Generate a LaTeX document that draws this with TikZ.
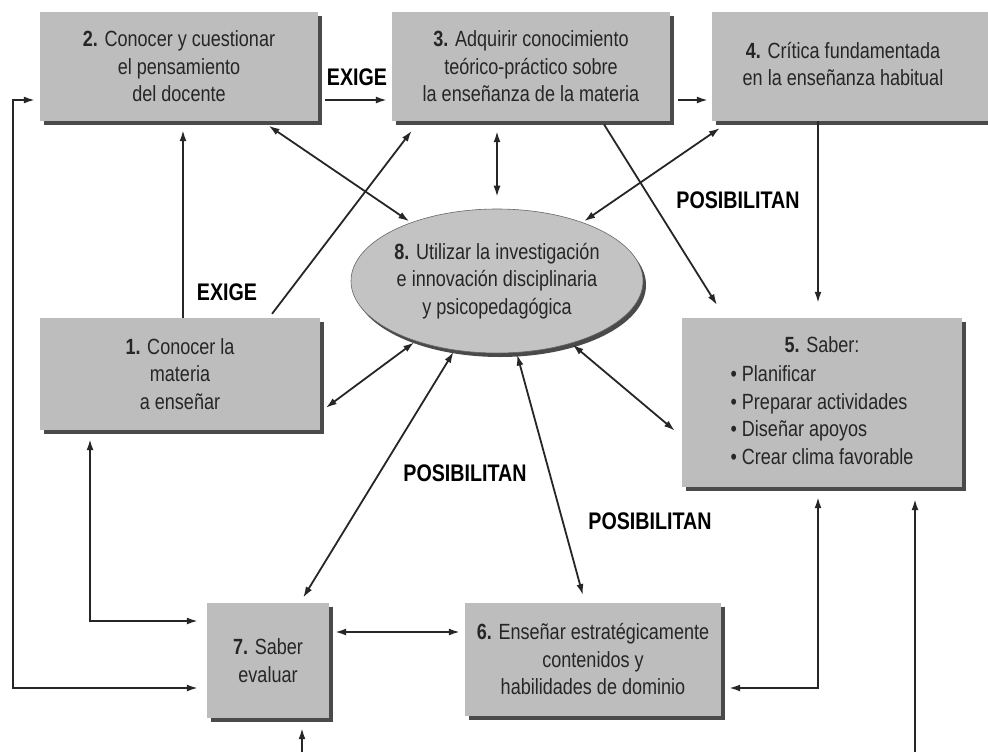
\documentclass[tikz,border=0pt]{standalone}
\usepackage{fontspec}
\setmainfont{Liberation Sans}[FakeStretch=0.82]
\usetikzlibrary{arrows.meta,shapes.geometric,shadows}
\definecolor{boxgray}{HTML}{BDBDBD}
\definecolor{ellgray}{HTML}{C3C3C3}
\definecolor{shadowgray}{HTML}{4A4A4A}
\definecolor{txtgray}{HTML}{262626}
\definecolor{linecol}{HTML}{262626}
\newcommand{\boxfont}{\fontsize{22}{27.5}\selectfont}
\newcommand{\lblfont}{\fontsize{24}{26}\selectfont\bfseries}
\begin{document}
\begin{tikzpicture}[x=1pt,y=-1pt,
  cbox/.style={rectangle, fill=boxgray, inner sep=0pt, align=center, font=\boxfont, text=txtgray,
    drop shadow={shadow xshift=4pt, shadow yshift=-4pt, opacity=1, fill=shadowgray}},
  ebox/.style={ellipse, fill=ellgray, draw=gray!80!black, line width=0.6pt, inner sep=0pt, align=center, font=\boxfont, text=txtgray,
    drop shadow={shadow xshift=3pt, shadow yshift=-4pt, opacity=1, fill=shadowgray}},
  lbl/.style={font=\lblfont, text=black},
  uni/.style={draw=linecol, line width=1.8pt, -{Latex[length=11pt,width=7pt]}},
  bi/.style={draw=linecol, line width=1.8pt, {Latex[length=11pt,width=7pt]}-{Latex[length=11pt,width=7pt]}}
]
\useasboundingbox[fill=white] (0,0) rectangle (988,752);

% boxes
\node[cbox, minimum width=278pt, minimum height=109pt] (b2) at (179,66.5)
  {\textbf{2.} Conocer y cuestionar\\el pensamiento\\del docente};
\node[cbox, minimum width=278pt, minimum height=109pt] (b3) at (531,66.5)
  {\textbf{3.} Adquirir conocimiento\\teórico-práctico sobre\\la enseñanza de la materia};
\node[cbox, minimum width=290pt, minimum height=109pt] (b4) at (857,66.5)
  {\begin{tabular}{@{}c@{}}\textbf{4.} Crítica fundamentada\\en la enseñanza habitual\end{tabular}\hspace*{28pt}};
\node[cbox, minimum width=280pt, minimum height=112pt] (b1) at (180,374)
  {\textbf{1.} Conocer la\\materia\\a enseñar};
\node[cbox, minimum width=280pt, minimum height=169pt] (b5) at (822,402.5)
  {\begin{tabular}{@{}l@{}}\multicolumn{1}{@{}c@{}}{\textbf{5.} Saber:}\\[2pt]
   • Planificar\\ • Preparar actividades\\ • Diseñar apoyos\\ • Crear clima favorable\end{tabular}};
\node[cbox, minimum width=122pt, minimum height=115pt] (b7) at (268,660.5)
  {\textbf{7.} Saber\\evaluar};
\node[cbox, minimum width=256pt, minimum height=113pt] (b6) at (593,659.5)
  {\textbf{6.} Enseñar estratégicamente\\contenidos y\\habilidades de dominio};
\node[ebox, minimum width=292pt, minimum height=144pt] (e8) at (497,281)
  {\textbf{8.} Utilizar la investigación\\e innovación disciplinaria\\y psicopedagógica};

% labels
\node[lbl] (ex1) at (357,77) {EXIGE};
\node[lbl] (ex2) at (227,292) {EXIGE};
\node[lbl] (p1) at (738,200) {POSIBILITAN};
\node[lbl] (p2) at (465,473) {POSIBILITAN};
\node[lbl] (p3) at (650,521) {POSIBILITAN};

% helper coordinates
\coordinate (L1) at (13,100);
\coordinate (L2) at (13,688);
\coordinate (M1) at (90,621);
\coordinate (X12) at (183,0);
\coordinate (H1) at (0,100);
\coordinate (X818) at (818,0);
\coordinate (Y632) at (0,632);
\coordinate (C56) at (818,688);
\coordinate (F1) at (915,752);
\coordinate (F2) at (302,752);

% connectors
\draw[bi, shorten <=5pt, shorten >=9pt] (b2.west |- L1) -- (L1) -- (L2) -- (b7.west |- L2);
\draw[bi, shorten <=9pt, shorten >=9pt] (b1.south -| M1) -- (M1) -- (b7.west |- M1);
\draw[uni, shorten >=9pt] (b1.north -| X12) -- (b2.south -| X12);
\draw[uni, shorten <=7pt, shorten >=5pt] (b2.east |- H1) -- (b3.west |- H1);
\draw[uni, shorten <=8pt, shorten >=4pt] (b3.east |- H1) -- (b4.west |- H1);
\draw[uni, shorten >=15pt] (b4.south -| X818) -- (b5.north -| X818);
\draw[uni, shorten <=4pt, shorten >=15pt] ([xshift=71pt]b3.south) -- ([xshift=-97pt]b5.north);
\draw[uni, shorten <=5pt, shorten >=12pt] ([xshift=89pt]b1.north) -- ([xshift=-112pt]b3.south);
\draw[bi, shorten <=8pt, shorten >=2pt] ([xshift=83pt]b2.south) -- (e8);
\draw[bi, shorten <=10pt, shorten >=12pt] (b3.south -| e8.north) -- (e8.north);
\draw[bi, shorten <=12pt, shorten >=2pt] ([xshift=18pt]b4.south west) -- (e8);
\draw[bi, shorten <=7pt, shorten >=2pt] ([yshift=-38pt]b1.east) -- (e8);
\draw[bi, shorten <=6pt, shorten >=2pt] ([xshift=32pt]b7.north) -- (e8);
\draw[bi, shorten <=8pt, shorten >=2pt] ([xshift=-8pt]b6.north) -- (e8);
\draw[bi, shorten <=9pt, shorten >=2pt] ([yshift=-34pt]b5.west) -- (e8);
\draw[bi, shorten <=6pt, shorten >=5pt] (b7.east |- Y632) -- (b6.west |- Y632);
\draw[bi, shorten <=10pt, shorten >=8pt] (b5.south -| C56) -- (C56) -- (b6.east |- C56);
\draw[uni, shorten >=12pt] (F1) -- (b5.south -| F1);
\draw[uni, shorten >=10pt] (F2) -- (b7.south -| F2);
\end{tikzpicture}
\end{document}
